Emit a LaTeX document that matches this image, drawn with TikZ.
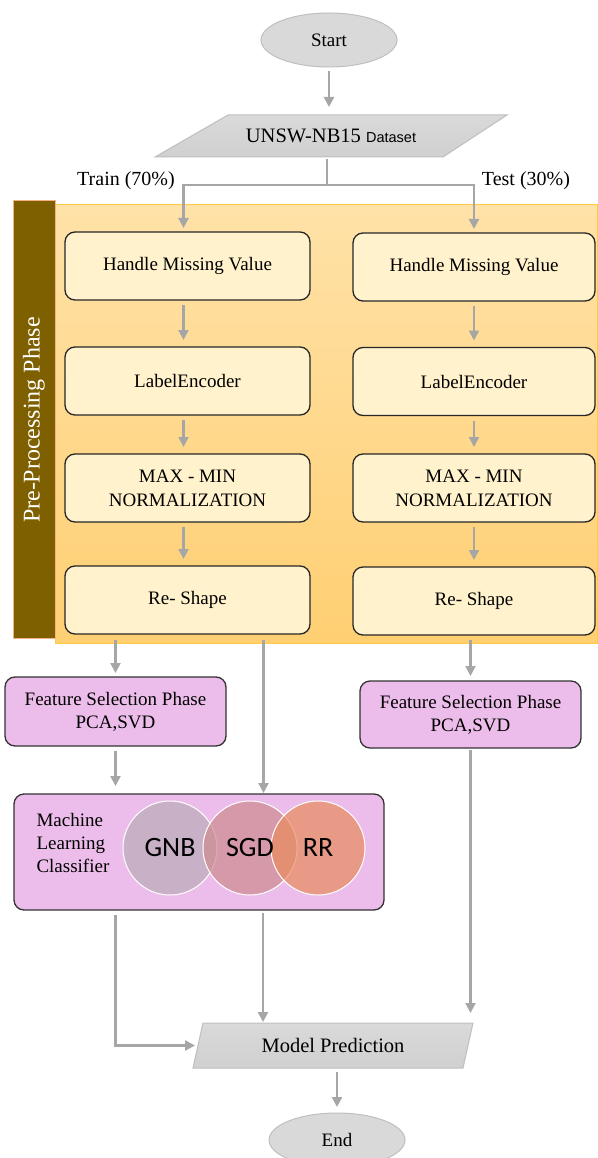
\documentclass[tikz,border=0pt]{standalone}
\usepackage{fontspec}
\setmainfont{Liberation Serif}
\newfontfamily\calibrifont{Carlito}
\newfontfamily\arialfont{Liberation Sans}
\usetikzlibrary{shapes.geometric,arrows.meta}

\definecolor{flowgray}{HTML}{A6A6A6}
\definecolor{termgray}{HTML}{D9D9D9}
\definecolor{termline}{HTML}{BFBFBF}
\definecolor{iogray}{HTML}{D0D0D0}
\definecolor{boxcream}{HTML}{FFF2CC}
\definecolor{phasebrown}{HTML}{7F6000}
\definecolor{phaseline}{HTML}{F4B183}
\definecolor{orangetop}{HTML}{FFE2A8}
\definecolor{orangebot}{HTML}{FFCF72}
\definecolor{orangeline}{HTML}{FFCB47}
\definecolor{featpink}{HTML}{ECBDEA}
\definecolor{gnbcol}{HTML}{BAACB9}
\definecolor{sgdcol}{HTML}{CD8B8F}
\definecolor{rrcol}{HTML}{E98C5E}

\begin{document}
\begin{tikzpicture}[x=1pt, y=-1pt,
    term/.style={ellipse, draw=termline, line width=1pt, fill=termgray, minimum width=136pt, minimum height=54pt, inner sep=0pt, outer sep=0pt, font=\fontsize{19}{22}\selectfont},
    ioshape/.style={draw=termline, line width=1pt, top color=iogray!80, bottom color=iogray},
    iotext/.style={inner sep=0pt, outer sep=0pt, font=\fontsize{20.5}{24}\selectfont},
    procbox/.style={draw=black!85, line width=1.3pt, fill=boxcream, rounded corners=10pt, minimum height=68pt, align=center, inner sep=0pt, outer sep=0pt, font=\fontsize{19}{24}\selectfont},
    featbox/.style={draw=black!80, line width=1.3pt, fill=featpink, rounded corners=10pt, minimum width=221pt, align=center, inner sep=0pt, outer sep=0pt, font=\fontsize{19}{23}\selectfont},
    algo/.style={circle, draw=white, line width=1pt, fill opacity=0.7, minimum size=94pt, inner sep=0pt},
    algotext/.style={font=\calibrifont\fontsize{28}{30}\selectfont},
    flowline/.style={draw=flowgray, line width=2.2pt},
    flow/.style={flowline, -{Triangle[length=10pt,width=10pt]}, shorten <=5pt, shorten >=7pt},
    split/.style={font=\fontsize{20}{24}\selectfont}
]
    \useasboundingbox (0,0) rectangle (597,1158);
    \fill[white] (0,0) rectangle (597,1158);
    % Pre-processing phase background
    \draw[orangeline, line width=1pt, top color=orangetop, bottom color=orangebot] (55,205) rectangle (597,643);
    \draw[phaseline, line width=1pt, fill=phasebrown] (13,201) rectangle (55,638);
    \node[rotate=90, text=white, font=\fontsize{24}{28}\selectfont] (phase) at (34,420) {Pre-Processing Phase};
    % Start & dataset
    \node[term] (start) at (329,40) {Start};
    \draw[ioshape] (155,157) -- (443,157) -- (507,115) -- (228,115) -- cycle;
    \node[iotext, minimum width=283pt, minimum height=42pt] (data) at (331,136)
        {UNSW-NB15 {\arialfont\fontsize{14.5}{17}\selectfont Dataset}};
    % Split labels
    \node[split] (train) at (126,181) {Train (70\%)};
    \node[split] (test) at (526,181) {Test (30\%)};
    % Train column
    \node[procbox, minimum width=245pt] (hmvL) at (187.5,266) {Handle Missing Value};
    \node[procbox, minimum width=245pt] (encL) at (187.5,381) {LabelEncoder};
    \node[procbox, minimum width=245pt] (normL) at (187.5,488) {MAX - MIN\\NORMALIZATION};
    \node[procbox, minimum width=245pt] (reshL) at (187.5,600) {Re- Shape};
    % Test column
    \node[procbox, minimum width=242pt] (hmvR) at (474,267) {Handle Missing Value};
    \node[procbox, minimum width=242pt] (encR) at (474,381.5) {LabelEncoder};
    \node[procbox, minimum width=242pt] (normR) at (474,488) {MAX - MIN\\NORMALIZATION};
    \node[procbox, minimum width=242pt] (reshR) at (474,601) {Re- Shape};
    % Feature selection
    \node[featbox, minimum height=69pt] (fsL) at (115.5,711.5) {Feature Selection Phase\\PCA,SVD};
    \node[featbox, minimum height=67pt] (fsR) at (470.5,714.5) {Feature Selection Phase\\PCA,SVD};
    % Classifier
    \node[featbox, minimum width=370pt, minimum height=116pt] (ml) at (199,852) {};
    \node[anchor=west, align=left, font=\fontsize{19}{23}\selectfont] (mltext) at (33,843) {Machine\\Learning\\Classifier};
    \node[algo, fill=gnbcol] (gnbc) at (170,848) {};
    \node[algo, fill=sgdcol] (sgdc) at (250,848) {};
    \node[algo, fill=rrcol] (rrc) at (318,848) {};
    \node[algotext] (gnb) at (gnbc) {GNB};
    \node[algotext] (sgd) at (sgdc) {SGD};
    \node[algotext] (rr) at (rrc) {RR};
    % Prediction & end
    \draw[ioshape] (193,1068) -- (463,1068) -- (473,1023) -- (203,1023) -- cycle;
    \node[iotext, minimum width=270pt, minimum height=45pt] (mp) at (333,1045.5) {Model Prediction};
    \node[term] (end) at (337,1140) {End};
    % Connectors
    \draw[flow, shorten <=4pt, shorten >=8pt] (start.south) -- (start.south |- data.north);
    \coordinate (fork) at (327,185);
    \draw[flowline, shorten <=2pt] (data.south -| fork) -- (fork);
    \draw[flow, shorten <=0pt, shorten >=4pt] (fork) -| ([xshift=-4pt]hmvL.north);
    \draw[flow, shorten <=0pt, shorten >=4pt] (fork) -| (hmvR.north);
    \draw[flow] ([xshift=-4pt]hmvL.south) -- ([xshift=-4pt]encL.north);
    \draw[flow] ([xshift=-4pt]encL.south) -- ([xshift=-4pt]normL.north);
    \draw[flow] ([xshift=-4pt]normL.south) -- ([xshift=-4pt]reshL.north);
    \draw[flow] (hmvR) -- (encR);
    \draw[flow] (encR) -- (normR);
    \draw[flow] (normR) -- (reshR);
    \draw[flow, shorten <=6pt, shorten >=4pt] (reshL.south -| fsL.north) -- (fsL.north);
    \draw[flow, shorten <=6pt, shorten >=1pt] ([xshift=76pt]reshL.south) -- ([xshift=76pt]reshL.south |- ml.north);
    \draw[flow, shorten >=8pt] (fsL.south) -- (fsL.south |- ml.north);
    \draw[flow, shorten >=5pt] (reshR.south -| fsR.north) -- (fsR.north);
    \draw[flow, shorten <=2pt, shorten >=10pt] (fsR.south) -- (fsR.south |- mp.north);
    \draw[flow, shorten <=3pt, shorten >=1pt] ([xshift=64pt]ml.south) -- ([xshift=64pt]ml.south |- mp.north);
    \draw[flow, shorten >=3pt] (fsL.south |- ml.south) |- (mp.west);
    \draw[flow, shorten <=4pt, shorten >=6pt] (mp.south -| end.north) -- (end.north);
\end{tikzpicture}
\end{document}
